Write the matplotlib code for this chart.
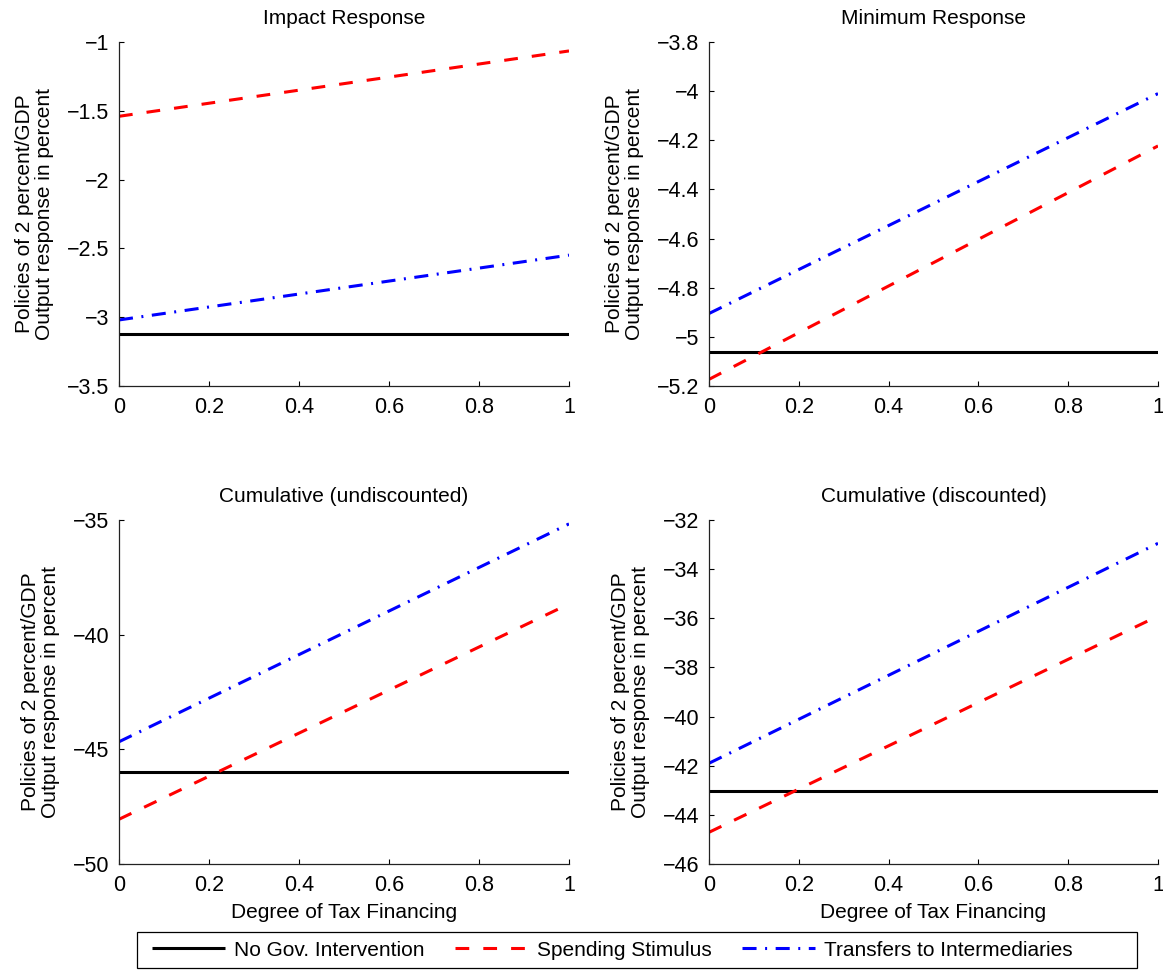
import matplotlib
matplotlib.use("Agg")
import matplotlib.pyplot as plt
from matplotlib.ticker import FixedLocator
from matplotlib.patches import Rectangle

plt.rcParams['font.family'] = ['Liberation Sans', 'DejaVu Sans']

x_tax = [0.0, 1.0]

titles = ["Impact Response", "Minimum Response",
          "Cumulative (undiscounted)", "Cumulative (discounted)"]

no_gov = [[-3.12, -3.12], [-5.062, -5.062], [-45.97, -45.97], [-43.03, -43.03]]
spending = [[-1.54, -1.065], [-5.173, -4.223], [-48.05, -38.66], [-44.71, -35.91]]
transfers = [[-3.02, -2.549], [-4.905, -4.01], [-44.67, -35.17], [-41.9, -32.95]]

ylims = [(-3.5, -1.0), (-5.2, -3.8), (-50, -35), (-46, -32)]
yticks = [[-3.5, -3, -2.5, -2, -1.5, -1],
          [-5.2, -5, -4.8, -4.6, -4.4, -4.2, -4, -3.8],
          [-50, -45, -40, -35],
          [-46, -44, -42, -40, -38, -36, -34, -32]]
ytick_labels = [["−3.5", "−3", "−2.5", "−2", "−1.5", "−1"],
                ["−5.2", "−5", "−4.8", "−4.6", "−4.4", "−4.2", "−4", "−3.8"],
                ["−50", "−45", "−40", "−35"],
                ["−46", "−44", "−42", "−40", "−38", "−36", "−34", "−32"]]
xticks = [0, 0.2, 0.4, 0.6, 0.8, 1]
xtick_labels = ["0", "0.2", "0.4", "0.6", "0.8", "1"]

series_names = ["No Gov. Intervention", "Spending Stimulus", "Transfers to Intermediaries"]

W, H = 1163, 971
fig = plt.figure(figsize=(W / 100, H / 100), dpi=100)

# axes boxes in pixels: (left, top, right, bottom)
boxes = [(119, 42, 569, 386), (709, 42, 1158, 386),
         (119, 520, 569, 864), (709, 520, 1158, 864)]

LW = 2.2
handles = None
for i, (l, t, r, b) in enumerate(boxes):
    ax = fig.add_axes([l / W, 1 - b / H, (r - l) / W, (b - t) / H])
    h1, = ax.plot(x_tax, no_gov[i], color='black', lw=LW, solid_capstyle='butt')
    h2, = ax.plot(x_tax, spending[i], color='#ff0000', lw=LW,
                  dashes=(4.5, 4.6), dash_capstyle='butt')
    h3, = ax.plot(x_tax, transfers[i], color='#0000ff', lw=LW,
                  dashes=(4.6, 2.8, 0.65, 2.8), dash_capstyle='butt')
    handles = [h1, h2, h3]
    ax.set_xlim(0, 1)
    ax.set_ylim(*ylims[i])
    ax.xaxis.set_major_locator(FixedLocator(xticks))
    ax.set_xticklabels(xtick_labels)
    ax.yaxis.set_major_locator(FixedLocator(yticks[i]))
    ax.set_yticklabels(ytick_labels[i])
    ax.spines['top'].set_visible(False)
    ax.spines['right'].set_visible(False)
    for s in ['left', 'bottom']:
        ax.spines[s].set_linewidth(0.9)
        ax.spines[s].set_color('#222222')
    ax.tick_params(direction='in', length=3.5, width=0.8, labelsize=15.5)
    ax.tick_params(axis='y', pad=7)
    ax.tick_params(axis='x', pad=8)
    ax.set_title(titles[i], fontsize=15, pad=13)
    ax.set_ylabel("Policies of 2 percent/GDP\nOutput response in percent",
                  fontsize=15, labelpad=9, linespacing=1.1)
    if i >= 2:
        ax.set_xlabel("Degree of Tax Financing", fontsize=15, labelpad=5)

# legend box (MATLAB-style, with extra room on the right)
fig.add_artist(Rectangle((137 / W, 1 - 968 / H), 1000 / W, 36 / H,
                         transform=fig.transFigure, facecolor='white',
                         edgecolor='black', linewidth=0.9, zorder=5))
leg = fig.legend(handles, series_names, loc='center left',
                 bbox_to_anchor=(137 / W, 1 - 950 / H),
                 ncol=3, fontsize=15, frameon=False,
                 handlelength=3.5, columnspacing=1.45,
                 handletextpad=0.45, borderpad=0.7, borderaxespad=0)
leg.set_zorder(6)

fig.savefig("out.png", dpi=100, facecolor='white')
